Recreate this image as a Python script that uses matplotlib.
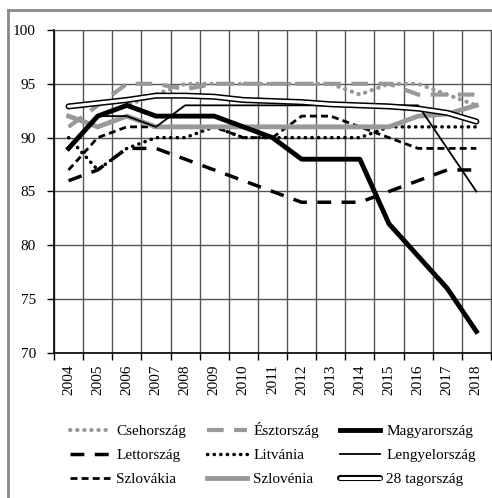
import matplotlib.pyplot as plt
import matplotlib.patheffects as pe
from matplotlib.lines import Line2D

plt.rcParams['font.family'] = ['Liberation Serif', 'DejaVu Serif']
plt.rcParams['font.size'] = 10.5

years = [str(y) for y in range(2004, 2019)]

csehorszag = [89, 92, 93, 94, 95, 95, 95, 95, 95, 95, 94, 95, 95, 94, 93]
esztorszag = [91, 93, 95, 95, 94.5, 95, 95, 95, 95, 95, 95, 95, 94, 94, 94]
magyarorszag = [89, 92, 93, 92, 92, 92, 91, 90, 88, 88, 88, 82, 79, 76, 72]
lettorszag = [86, 87, 89, 89, 88, 87, 86, 85, 84, 84, 84, 85, 86, 87, 87]
litvania = [90, 87, 89, 90, 90, 91, 90, 90, 90, 90, 90, 91, 91, 91, 91]
lengyelorszag = [89, 92, 92, 91, 93, 93, 93, 93, 93, 93, 93, 93, 93, 89, 85]
szlovakia = [87, 90, 91, 91, 91, 91, 90, 90, 92, 92, 91, 90, 89, 89, 89]
szlovenia = [92, 91, 92, 91, 91, 91, 91, 91, 91, 91, 91, 91, 92, 92.2, 93]
eu28 = [92.9, 93.2, 93.5, 93.9, 93.9, 93.8, 93.5, 93.4, 93.3, 93.1, 93.0, 92.9, 92.7, 92.3, 91.5]

gray = '#999999'
x = list(range(len(years)))

fig = plt.figure(figsize=(4.92, 4.98), dpi=100)
ax = fig.add_axes([0.1098, 0.2912, 0.888, 0.6486])

lines = {}
lines['Csehország'] = ax.plot(x, csehorszag, color=gray, lw=3, ls=(0, (0.1, 1.6)),
                              dash_capstyle='round', solid_capstyle='round')[0]
lines['Észtország'] = ax.plot(x, esztorszag, color=gray, lw=3, ls=(0, (4, 2.5)))[0]
lines['Lettország'] = ax.plot(x, lettorszag, color='black', lw=2.5, ls=(0, (4, 3)))[0]
lines['Litvánia'] = ax.plot(x, litvania, color='black', lw=2.5, ls=(0, (0.1, 1.8)),
                            dash_capstyle='round')[0]
lines['Szlovákia'] = ax.plot(x, szlovakia, color='black', lw=2, ls=(0, (2.5, 1.5)))[0]
lines['Szlovénia'] = ax.plot(x, szlovenia, color=gray, lw=3.5)[0]
lines['Lengyelország'] = ax.plot(x, lengyelorszag, color='black', lw=1.3)[0]
lines['Magyarország'] = ax.plot(x, magyarorszag, color='black', lw=3.5)[0]
lines['28 tagország'] = ax.plot(x, eu28, color='white', lw=2.2, solid_capstyle='round',
                                path_effects=[pe.Stroke(linewidth=4.4, foreground='black'),
                                              pe.Normal()])[0]

ax.set_xlim(-0.5, len(years) - 0.5)
ax.set_ylim(70, 100)
ax.set_yticks(range(70, 101, 5))
ax.set_xticks(x)
ax.set_xticklabels(years, rotation=90, fontsize=11)
ax.set_xticks([i - 0.5 for i in range(len(years) + 1)], minor=True)
ax.tick_params(axis='x', which='major', length=0, pad=8)
ax.tick_params(axis='x', which='minor', length=5, width=1, direction='out')
ax.tick_params(axis='y', length=5, width=1, direction='out', pad=8, labelsize=11)

ax.grid(axis='y', which='major', color='#555555', lw=1)
ax.grid(axis='x', which='minor', color='#555555', lw=1)
for s in ['top', 'right']:
    ax.spines[s].set_color('#555555')
ax.spines['left'].set_linewidth(1.2)
ax.spines['bottom'].set_linewidth(1.2)

order = ['Csehország', 'Lettország', 'Szlovákia',
         'Észtország', 'Litvánia', 'Szlovénia',
         'Magyarország', 'Lengyelország', '28 tagország']
fig.legend([lines[k] for k in order], order, ncol=3, frameon=False,
           loc='upper left', bbox_to_anchor=(0.115, 0.18),
           handlelength=2.6, handletextpad=0.4, columnspacing=1.4,
           labelspacing=0.68, fontsize=11)

# gray frame around the chart
fig.add_artist(Line2D([0.017, 1.0], [0.98, 0.98], color='#888888', lw=2))
fig.add_artist(Line2D([0.017, 0.017], [0.0, 0.98], color='#888888', lw=2))

fig.savefig('out.png', dpi=100)
